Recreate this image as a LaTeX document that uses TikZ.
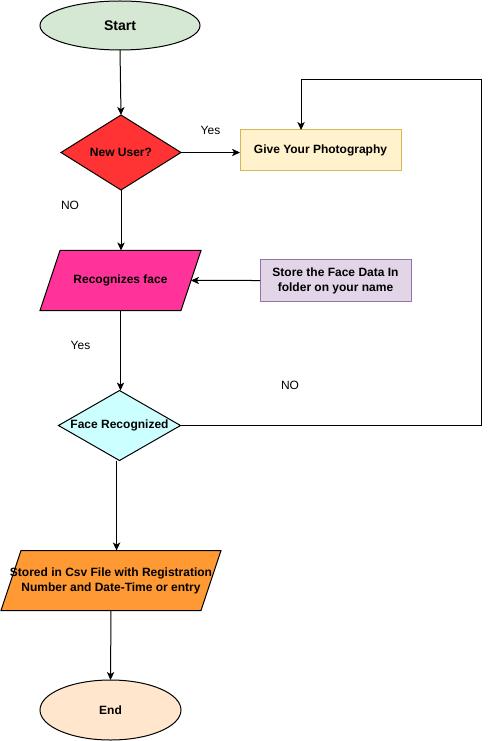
\documentclass[tikz,border=0pt]{standalone}
\usepackage{fontspec}
\setmainfont{Liberation Sans}
\usetikzlibrary{shapes.geometric,arrows.meta}
\definecolor{startfill}{HTML}{D5E8D4}
\definecolor{nufill}{HTML}{FF3333}
\definecolor{gypfill}{HTML}{FFF2CC}
\definecolor{gypdraw}{HTML}{D6B656}
\definecolor{rffill}{HTML}{FF3399}
\definecolor{stfill}{HTML}{E1D5E7}
\definecolor{stdraw}{HTML}{9673A6}
\definecolor{frfill}{HTML}{CCFFFF}
\definecolor{csvfill}{HTML}{FF9933}
\definecolor{endfill}{HTML}{FFE6CC}
\tikzset{
  base/.style={draw=black, line width=0.75pt, inner sep=0pt, outer sep=0pt, font=\bfseries\fontsize{9}{11.25}\selectfont, align=center},
  oval/.style={base, ellipse},
  rhomb/.style={base, diamond},
  para/.style={base, trapezium, trapezium left angle=71.57, trapezium right angle=108.43, trapezium stretches body},
  boxnode/.style={base, rectangle},
  inner/.style={font=\bfseries\fontsize{9}{11.25}\selectfont, align=center, inner sep=0pt},
  lbl/.style={font=\fontsize{9}{11.25}\selectfont, inner sep=0pt},
  arr/.style={line width=0.75pt, -{Stealth[length=6pt,width=5.5pt,inset=1.6pt]}},
}
\begin{document}
\begin{tikzpicture}[x=0.75pt,y=-0.75pt]
\useasboundingbox (0,0) rectangle (489,741);
\node[oval, fill=startfill, minimum width=120pt, minimum height=36.75pt, font=\bfseries\fontsize{10.5}{12}\selectfont] (start) at (120,25.5) {Start};
\node[rhomb, fill=nufill, minimum width=90pt, minimum height=56.25pt, label={[inner]center:New User?}] (nu) at (121,152.5) {};
\node[boxnode, fill=gypfill, draw=gypdraw, minimum width=120.75pt, minimum height=30.75pt] (gyp) at (320.5,150.5) {Give Your Photography};
\node[para, fill=rffill, minimum width=120.75pt, label={[inner]center:Recognizes face}] (rf) at (120.5,280.5) {\rule{0pt}{45pt}};
\node[boxnode, fill=stfill, draw=stdraw, minimum width=113.25pt, minimum height=30.75pt] (store) at (335.5,280.5) {Store the Face Data In\\folder on your name};
\node[rhomb, fill=frfill, minimum width=91.5pt, minimum height=52.5pt, label={[inner]center:Face Recognized}] (fr) at (119.5,425.5) {};
\node[para, fill=csvfill, minimum width=165pt, label={[inner]center:Stored in Csv File with Registration\\Number and Date-Time or entry}] (csv) at (111,580.5) {\rule{0pt}{45pt}};
\node[oval, fill=endfill, minimum width=105.75pt, minimum height=45pt] (end) at (110.5,710) {End};

\node[lbl] (l1) at (210.5,130.5) {Yes};
\node[lbl] (l2) at (70,205.5) {NO};
\node[lbl] (l3) at (80.5,345.5) {Yes};
\node[lbl] (l4) at (290,385.5) {NO};

\coordinate (c1) at (481,80);
\draw[arr] (start.south) -- (nu.north);
\draw[arr] (nu.east) -- (nu.east -| gyp.west);
\draw[arr] (nu.south) -- (nu.south |- rf.north);
\draw[arr] (store.west) -- (rf.east);
\draw[arr] (rf.south) -- (rf.south |- fr.north);
\draw[arr] (fr.east) -| (c1) -| ([xshift=-14.6pt]gyp.north);
\draw[arr] ([xshift=-2.2pt]fr.south) -- ([xshift=-2.2pt]fr.south |- csv.north);
\draw[arr] (csv.south) -- (end.north);
\end{tikzpicture}
\end{document}
